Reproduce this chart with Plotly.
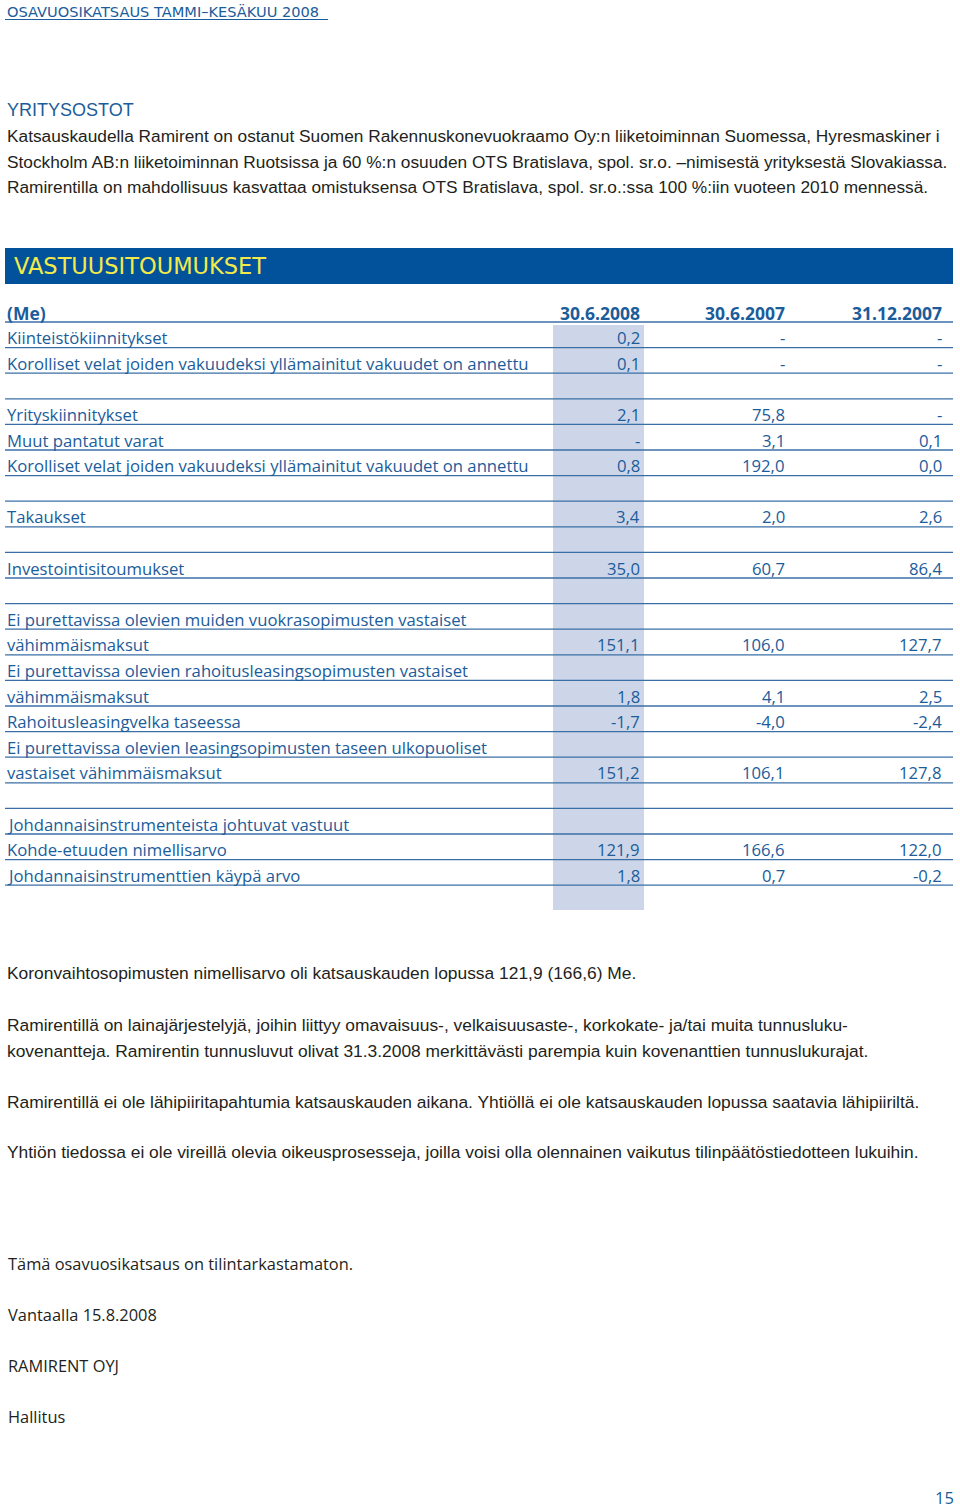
import plotly.graph_objects as go

# Full-page figure; the page body's default 8px margin is removed by a small
# post-script so that axis units equal page pixels.
W, H = 960, 1511

BLUE = "#1b5c9b"
LINE = "#3a6fa6"
BAR = "#02529b"
YELLOW = "#f3ea4a"
SHADE = "#cdd6e8"
INK = "#231f20"

TABLE_FONT = "Open Sans"
BODY_FONT = "Liberation Sans, Arial"
SIGN_FONT = "Open Sans"

page_title = "OSAVUOSIKATSAUS TAMMI–KESÄKUU 2008"
section_heading = "YRITYSOSTOT"
intro_lines = [
    "Katsauskaudella Ramirent on ostanut Suomen Rakennuskonevuokraamo Oy:n liiketoiminnan Suomessa, Hyresmaskiner i",
    "Stockholm AB:n liiketoiminnan Ruotsissa ja 60 %:n osuuden OTS Bratislava, spol. sr.o. –nimisestä yrityksestä Slovakiassa.",
    "Ramirentilla on mahdollisuus kasvattaa omistuksensa OTS Bratislava, spol. sr.o.:ssa 100 %:iin vuoteen 2010 mennessä.",
]
table_title = "VASTUUSITOUMUKSET"
unit_label = "(Me)"
columns = ["30.6.2008", "30.6.2007", "31.12.2007"]

labels = [
    "Kiinteistökiinnitykset",
    "Korolliset velat joiden vakuudeksi yllämainitut vakuudet on annettu",
    "",
    "Yrityskiinnitykset",
    "Muut pantatut varat",
    "Korolliset velat joiden vakuudeksi yllämainitut vakuudet on annettu",
    "",
    "Takaukset",
    "",
    "Investointisitoumukset",
    "",
    "Ei purettavissa olevien muiden vuokrasopimusten vastaiset",
    "vähimmäismaksut",
    "Ei purettavissa olevien rahoitusleasingsopimusten vastaiset",
    "vähimmäismaksut",
    "Rahoitusleasingvelka taseessa",
    "Ei purettavissa olevien leasingsopimusten taseen ulkopuoliset",
    "vastaiset vähimmäismaksut",
    "",
    "Johdannaisinstrumenteista johtuvat vastuut",
    "Kohde-etuuden nimellisarvo",
    "Johdannaisinstrumenttien käypä arvo",
]
val_2008 = ["0,2", "0,1", "", "2,1", "-", "0,8", "", "3,4", "", "35,0", "",
            "", "151,1", "", "1,8", "-1,7", "", "151,2", "", "", "121,9", "1,8"]
val_2007 = ["-", "-", "", "75,8", "3,1", "192,0", "", "2,0", "", "60,7", "",
            "", "106,0", "", "4,1", "-4,0", "", "106,1", "", "", "166,6", "0,7"]
val_dec2007 = ["-", "-", "", "-", "0,1", "0,0", "", "2,6", "", "86,4", "",
               "", "127,7", "", "2,5", "-2,4", "", "127,8", "", "", "122,0", "-0,2"]

outro_paras = [
    ["Koronvaihtosopimusten nimellisarvo oli katsauskauden lopussa 121,9 (166,6) Me."],
    ["Ramirentillä on lainajärjestelyjä, joihin liittyy omavaisuus-, velkaisuusaste-, korkokate- ja/tai muita tunnusluku-",
     "kovenantteja. Ramirentin tunnusluvut olivat 31.3.2008 merkittävästi parempia kuin kovenanttien tunnuslukurajat."],
    ["Ramirentillä ei ole lähipiiritapahtumia katsauskauden aikana. Yhtiöllä ei ole katsauskauden lopussa saatavia lähipiiriltä."],
    ["Yhtiön tiedossa ei ole vireillä olevia oikeusprosesseja, joilla voisi olla olennainen vaikutus tilinpäätöstiedotteen lukuihin."],
]
sign_lines = ["Tämä osavuosikatsaus on tilintarkastamaton.", "Vantaalla 15.8.2008", "RAMIRENT OYJ", "Hallitus"]
page_number = "15"

fig = go.Figure()
ann = []
shapes = []


def text(x, y, s, size, color=INK, family=BODY_FONT, anchor="left", bold=False):
    ann.append(dict(x=x, y=y, xref="x", yref="y", text=s, showarrow=False,
                    xanchor=anchor, yanchor="middle",
                    font=dict(size=size, color=color, family=family,
                              weight="bold" if bold else "normal")))


# page header
text(5, 11, page_title, 14.6, BLUE, "DejaVu Sans")
shapes.append(dict(type="line", x0=5, x1=328, y0=19.5, y1=19.5, xref="x", yref="y",
                   line=dict(color=BLUE, width=1)))

# section
text(5, 110, section_heading, 18, BLUE, BODY_FONT)
for i, s in enumerate(intro_lines):
    text(5, 136 + i * 25.6, s, 17.3, INK, BODY_FONT)

# table title bar
shapes.append(dict(type="rect", x0=5, x1=953, y0=248, y1=284, xref="x", yref="y",
                   fillcolor=BAR, line=dict(width=0), layer="below"))
text(12, 266, table_title, 22.5, YELLOW, "DejaVu Sans")

# shaded column
shapes.append(dict(type="rect", x0=553, x1=644, y0=325, y1=910, xref="x", yref="y",
                   fillcolor=SHADE, line=dict(width=0), layer="below"))

col_right = [642, 787, 944]
pitch = 25.6
header_line = 322
text(5, 313, unit_label, 17.5, BLUE, TABLE_FONT, bold=True)
for c, name in enumerate(columns):
    text(col_right[c], 313, name, 17.5, BLUE, TABLE_FONT, anchor="right", bold=True)
shapes.append(dict(type="line", x0=5, x1=953, y0=header_line, y1=header_line, xref="x", yref="y",
                   line=dict(color=LINE, width=1.3)))

for i, lab in enumerate(labels):
    ly = header_line + (i + 1) * pitch
    shapes.append(dict(type="line", x0=5, x1=953, y0=ly, y1=ly, xref="x", yref="y",
                       line=dict(color=LINE, width=1.3)))
    ty = ly - 10
    if lab:
        text(5, ty, lab, 16.7, BLUE, TABLE_FONT)
    for c, vals in enumerate([val_2008, val_2007, val_dec2007]):
        if vals[i]:
            text(col_right[c], ty, vals[i], 16.7, BLUE, TABLE_FONT, anchor="right")

# outro paragraphs
para_y = [[973], [1025, 1051], [1102], [1152]]
for para, ys in zip(outro_paras, para_y):
    for s, y in zip(para, ys):
        text(5, y, s, 17.4, INK, BODY_FONT)

for i, s in enumerate(sign_lines):
    text(6, 1263 + i * 51, s, 16.4, INK, SIGN_FONT)

text(956, 1497, page_number, 16.5, BLUE, SIGN_FONT, anchor="right")

fig.update_layout(
    width=W, height=H, margin=dict(l=0, r=0, t=0, b=0),
    paper_bgcolor="white", plot_bgcolor="white",
    xaxis=dict(range=[0, W], visible=False, fixedrange=True),
    yaxis=dict(range=[H, 0], visible=False, fixedrange=True),
    annotations=ann, shapes=shapes, showlegend=False,
)
fig.write_html(
    "out.html",
    config={"displayModeBar": False},
    post_script="document.body.style.margin='0';document.body.style.overflow='hidden';",
)
